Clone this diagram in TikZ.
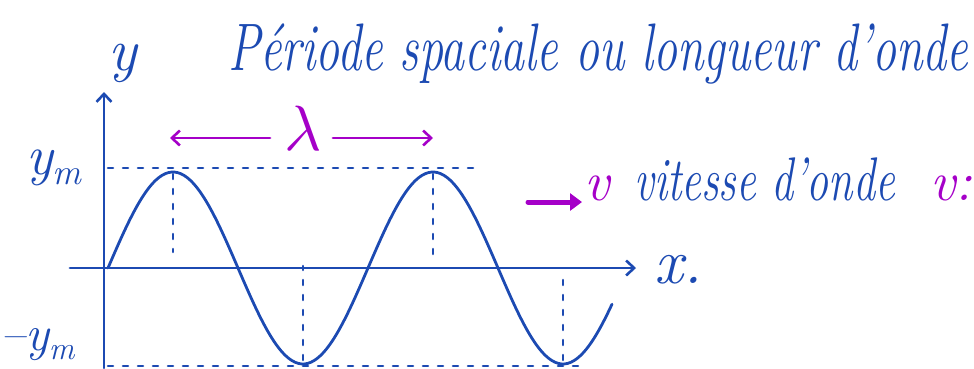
\documentclass[tikz,border=0pt]{standalone}
\usetikzlibrary{arrows.meta}
\definecolor{ink}{RGB}{28,74,178}
\definecolor{inkpurple}{RGB}{165,0,200}
\newcommand{\subm}[1]{\raisebox{-0.18em}{\fontsize{#1}{#1}\selectfont\itshape m}}
\begin{document}
\begin{tikzpicture}[x=1pt,y=-1pt,
  pen/.style={ink, line width=2.8pt, line cap=round, line join=round},
  dotline/.style={ink, line width=2.6pt, line cap=round, dash pattern=on 5pt off 10pt},
  ppen/.style={inkpurple, line width=2.8pt, line cap=round},
  tip/.style={-{Straight Barb[length=8pt,width=15pt,line width=2.6pt]}},
  hand/.style={ink, font=\itshape, inner sep=0pt, anchor=base west},
]
\useasboundingbox (0,0) rectangle (974,368);
\clip (0,0) rectangle (974,368);

% coordinates
\coordinate (ybot) at (104,368);
\coordinate (ytop) at (104,92);
\coordinate (xl) at (70,268);
\coordinate (xr) at (636,268);
\coordinate (ymL) at (108,168);
\coordinate (ymR) at (475,168);
\coordinate (nymL) at (108,366);
\coordinate (nymR) at (578,366);
\coordinate (p1) at (173,174);
\coordinate (p1f) at (173,252);
\coordinate (p2) at (433,174);
\coordinate (p2f) at (433,257);
\coordinate (t1) at (303,360);
\coordinate (t1f) at (303,266);
\coordinate (t2) at (563,360);
\coordinate (t2f) at (563,272);
\coordinate (la) at (170,138);
\coordinate (la1) at (270,138);
\coordinate (lb1) at (333,138);
\coordinate (lb) at (433,138);
\coordinate (va) at (528,202);
\coordinate (vb) at (582,202);

% dashed guide lines
\draw[dotline] (ymL) -- (ymR);
\draw[dotline] (nymL) -- (nymR);
\draw[dotline] (p1) -- (p1f);
\draw[dotline] (p2) -- (p2f);
\draw[dotline] (t1) -- (t1f);
\draw[dotline] (t2) -- (t2f);

% axes
\draw[pen, tip] (ybot) -- (ytop);
\draw[pen, tip] (xl) -- (xr);

% wave
\draw[pen] plot[domain=108:612, samples=160, smooth] (\x, {268-96*sin(1.384615*(\x-108))});

% wavelength
\node[inkpurple, inner sep=0pt] (lam) at (303,128) {\scalebox{6.4}{$\lambda$}};
\draw[ppen, tip] (la1) -- (la);
\draw[ppen, tip] (lb1) -- (lb);

% speed arrow
\draw[inkpurple, line width=5pt, line cap=round, -{Triangle[length=12pt,width=17pt]}] (va) -- (vb);

% texts
\node[hand, font=\fontsize{48}{50}\selectfont\itshape] (title) at (228,70) {\scalebox{1}[1.4]{Période spaciale ou longueur d'onde}};
\node[hand, font=\fontsize{60}{62}\selectfont\itshape] (ylab) at (108,70) {y};
\node[hand, font=\fontsize{56}{58}\selectfont\itshape] (ym) at (26,174) {y\subm{36}};
\node[hand, font=\fontsize{50}{52}\selectfont\itshape] (nym) at (0,350) {–y\subm{32}};
\node[hand, font=\fontsize{64}{66}\selectfont\itshape] (xlab) at (654,283) {x.};
\node[hand, inkpurple, font=\fontsize{56}{58}\selectfont\itshape] (v1) at (584,200) {v};
\node[hand, font=\fontsize{44}{46}\selectfont\itshape] (vit) at (634,200) {\scalebox{1}[1.4]{vitesse d'onde}};
\node[hand, inkpurple, font=\fontsize{56}{58}\selectfont\itshape] (v2) at (930,200) {v:};
\end{tikzpicture}
\end{document}
